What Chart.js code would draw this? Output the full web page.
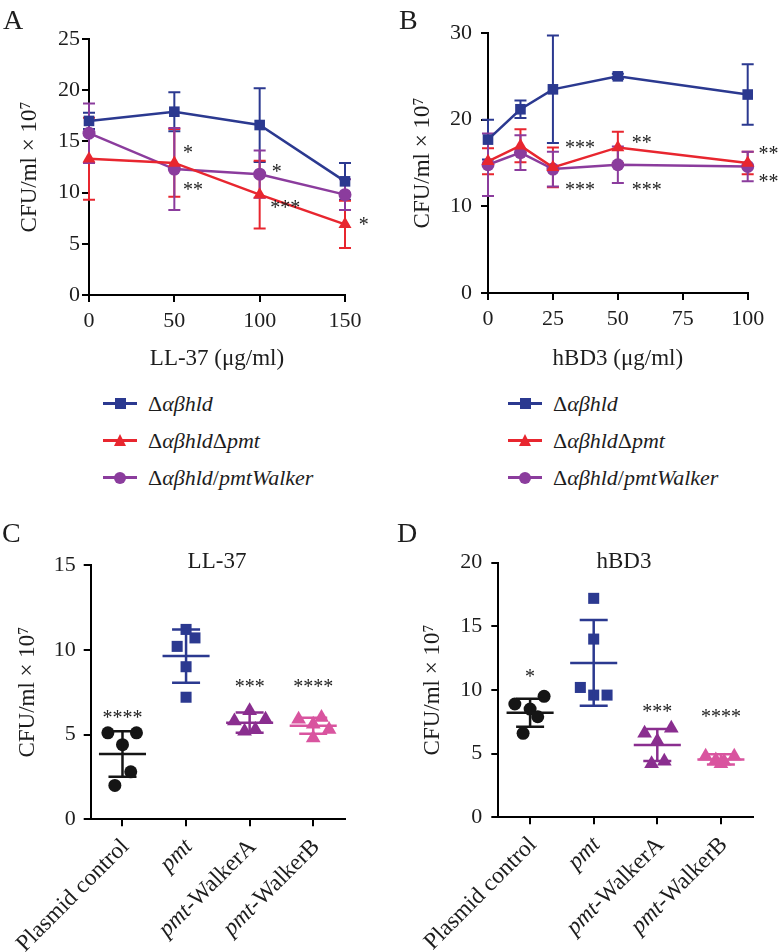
<!DOCTYPE html>
<html>
<head>
<meta charset="utf-8">
<script src="https://cdn.jsdelivr.net/npm/chart.js@4.4.0/dist/chart.umd.min.js"></script>
<style>
  body { margin: 0; background: #fff; font-family: "Liberation Serif", serif; color: #1d1d1d; }
  #page { position: relative; width: 778px; height: 952px; overflow: hidden; }
  canvas { position: absolute; }
  .letter { position: absolute; font-size: 28px; line-height: 28px; }
  .ptitle { position: absolute; font-size: 23px; line-height: 23px; transform: translate(-50%, -50%); white-space: nowrap; }
  .legend { position: absolute; font-family: "Liberation Serif", serif; font-size: 22px; }
  .legend i { font-family: "Liberation Serif", serif; font-style: italic; }
  .legend .row { height: 37px; display: flex; align-items: center; white-space: nowrap; }
  .icon { position: relative; width: 34px; height: 14px; margin-right: 11px; }
  .icon .ln { position: absolute; left: 0; right: 0; top: 5.5px; height: 3px; }
  .icon .sq { position: absolute; left: 11.5px; top: 1.5px; width: 11px; height: 11px; }
  .icon .ci { position: absolute; left: 11px; top: 1px; width: 12px; height: 12px; border-radius: 50%; }
  .icon .tr { position: absolute; left: 10.5px; top: 0px; width: 0; height: 0;
              border-left: 6.5px solid transparent; border-right: 6.5px solid transparent; border-bottom: 12px solid; }
</style>
</head>
<body>
<div id="page">
  <canvas id="chartA" width="380" height="370" style="left:0;top:0"></canvas>
  <canvas id="chartB" width="398" height="370" style="left:380px;top:0"></canvas>
  <canvas id="chartC" width="390" height="412" style="left:0;top:540px"></canvas>
  <canvas id="chartD" width="388" height="412" style="left:390px;top:540px"></canvas>

  <div class="letter" style="left:3px;top:6px">A</div>
  <div class="letter" style="left:399px;top:6px">B</div>
  <div class="letter" style="left:2px;top:519px">C</div>
  <div class="letter" style="left:397px;top:519px">D</div>

  <div class="ptitle" style="left:217px;top:560px">LL-37</div>
  <div class="ptitle" style="left:624px;top:560px">hBD3</div>

  <div class="legend" id="legendA" style="left:103px;top:385px"></div>
  <div class="legend" id="legendB" style="left:508px;top:385px"></div>
</div>

<script>
// panels A and B: means and SDs per dose
const doseLL37 = [0, 50, 100, 150];
const doseHBD3 = [0, 12.5, 25, 50, 100];

const ll37Hld = [17.0, 17.9, 16.6, 11.1];
const ll37HldSd = [0.8, 1.9, 3.6, 1.8];
const ll37Pmt = [13.3, 12.9, 9.8, 6.9];
const ll37PmtSd = [4.0, 3.3, 3.3, 2.3];
const ll37Walker = [15.8, 12.3, 11.8, 9.8];
const ll37WalkerSd = [2.9, 4.0, 2.3, 1.5];

const hbd3Hld = [17.7, 21.2, 23.5, 25.0, 22.9];
const hbd3HldSd = [2.3, 1.0, 6.2, 0.3, 3.5];
const hbd3Pmt = [15.2, 17.0, 14.5, 16.8, 15.0];
const hbd3PmtSd = [1.5, 1.9, 2.3, 1.8, 1.3];
const hbd3Walker = [14.8, 16.2, 14.3, 14.8, 14.6];
const hbd3WalkerSd = [3.6, 2.0, 2.0, 2.1, 1.7];

// panels C and D: single replicates per strain
const strains = ["Plasmid control", "pmt", "pmt-WalkerA", "pmt-WalkerB"];

const ll37Points = [
  [5.1, 5.1, 4.4, 2.8, 2.0],
  [11.2, 10.7, 10.2, 9.0, 7.2],
  [6.4, 5.8, 5.9, 5.2, 5.3],
  [5.9, 6.0, 5.6, 5.3, 4.8],
];
const ll37Jitter = [
  [-0.23, 0.22, 0, 0.13, -0.12],
  [0, 0.14, -0.14, 0, 0],
  [0, -0.24, 0.25, -0.08, 0.09],
  [-0.23, 0.13, 0, 0.25, 0],
];
const ll37Mean = [3.85, 9.63, 5.7, 5.52];
const ll37Sd = [1.34, 1.57, 0.6, 0.47];

const hbd3Points = [
  [8.9, 9.5, 8.5, 7.9, 6.6],
  [17.2, 14.0, 10.2, 9.6, 9.6],
  [6.6, 7.0, 6.0, 4.2, 4.4],
  [4.8, 4.8, 4.5, 4.4, 4.2],
];
const hbd3Jitter = [
  [-0.24, 0.22, 0, 0.12, -0.11],
  [0, 0, -0.21, 0, 0.21],
  [-0.2, 0.22, 0, -0.09, 0.11],
  [-0.24, 0.21, -0.08, 0.05, 0],
];
const hbd3Mean = [8.22, 12.13, 5.68, 4.55];
const hbd3Sd = [1.1, 3.37, 1.25, 0.4];

// significance marks, in data units of each panel
const starsA = [
  { x: 58, y: 14.4, text: "*" },
  { x: 61, y: 10.7, text: "**" },
  { x: 110, y: 12.5, text: "*" },
  { x: 115, y: 9.0, text: "***" },
  { x: 161, y: 7.3, text: "*" },
];
const starsB = [
  { x: 35.4, y: 17.3, text: "***" },
  { x: 59.2, y: 17.85, text: "**" },
  { x: 108, y: 16.6, text: "**" },
  { x: 35.4, y: 12.5, text: "***" },
  { x: 61.1, y: 12.5, text: "***" },
  { x: 108, y: 13.4, text: "**" },
];
const starsC = [
  { x: 0, y: 6.25, text: "****" },
  { x: 2, y: 8.1, text: "***" },
  { x: 3, y: 8.1, text: "****" },
];
const starsD = [
  { x: 0, y: 11.4, text: "*" },
  { x: 2, y: 8.7, text: "***" },
  { x: 3, y: 8.3, text: "****" },
];

const blue = "#2b3990";
const red = "#e8262f";
const purple = "#8b3c9d";
const black = "#151515";
const walkerA = "#8a2e8f";
const walkerB = "#d9549f";
const ink = "#1d1d1d";
const serif = "'Liberation Serif', serif";
const yTitle = "CFU/ml \u00d7 10\u2077";

renderLegend("legendA");
renderLegend("legendB");

function renderLegend(id) {
  const rows = [
    { color: blue, mark: "sq", html: "\u0394<i>\u03b1\u03b2hld</i>" },
    { color: red, mark: "tr", html: "\u0394<i>\u03b1\u03b2hld</i>\u0394<i>pmt</i>" },
    { color: purple, mark: "ci", html: "\u0394<i>\u03b1\u03b2hld</i>/<i>pmtWalker</i>" },
  ];
  let html = "";
  for (const row of rows) {
    const markStyle = row.mark === "tr" ? `border-bottom-color:${row.color}` : `background:${row.color}`;
    html += `<div class="row"><div class="icon"><div class="ln" style="background:${row.color}"></div>` +
      `<div class="${row.mark}" style="${markStyle}"></div></div><span>${row.html}</span></div>`;
  }
  document.getElementById(id).innerHTML = html;
}

const errorBars = {
  id: "errorBars",
  beforeDatasetsDraw(chart) {
    const { ctx, scales } = chart;
    chart.data.datasets.forEach((ds) => {
      if (!ds.sd) return;
      ctx.save();
      ctx.strokeStyle = ds.borderColor;
      ctx.lineWidth = 2;
      ds.data.forEach((p, i) => {
        const px = scales.x.getPixelForValue(p.x);
        const top = scales.y.getPixelForValue(p.y + ds.sd[i]);
        const bot = scales.y.getPixelForValue(p.y - ds.sd[i]);
        ctx.beginPath();
        ctx.moveTo(px, top);
        ctx.lineTo(px, bot);
        ctx.moveTo(px - 6, top);
        ctx.lineTo(px + 6, top);
        ctx.moveTo(px - 6, bot);
        ctx.lineTo(px + 6, bot);
        ctx.stroke();
      });
      ctx.restore();
    });
  },
};

function starPlugin(marks) {
  return {
    id: "stars",
    afterDraw(chart) {
      const { ctx, scales } = chart;
      ctx.save();
      ctx.fillStyle = ink;
      ctx.font = `20px ${serif}`;
      ctx.textAlign = "center";
      ctx.textBaseline = "alphabetic";
      for (const m of marks) {
        ctx.fillText(m.text, scales.x.getPixelForValue(m.x), scales.y.getPixelForValue(m.y) + 11);
      }
      ctx.restore();
    },
  };
}

function summaryPlugin(means, sds, colors) {
  return {
    id: "summary",
    afterDatasetsDraw(chart) {
      const { ctx, scales } = chart;
      ctx.save();
      ctx.lineWidth = 2.5;
      means.forEach((mean, i) => {
        const x0 = scales.x.getPixelForValue(i - 0.37);
        const x1 = scales.x.getPixelForValue(i + 0.37);
        const xc = scales.x.getPixelForValue(i);
        const ym = scales.y.getPixelForValue(mean);
        const yt = scales.y.getPixelForValue(mean + sds[i]);
        const yb = scales.y.getPixelForValue(mean - sds[i]);
        ctx.strokeStyle = colors[i];
        ctx.beginPath();
        ctx.moveTo(x0, ym);
        ctx.lineTo(x1, ym);
        ctx.moveTo(xc, yt);
        ctx.lineTo(xc, yb);
        ctx.moveTo(xc - 14, yt);
        ctx.lineTo(xc + 14, yt);
        ctx.moveTo(xc - 14, yb);
        ctx.lineTo(xc + 14, yb);
        ctx.stroke();
      });
      ctx.restore();
    },
  };
}

function strainLabels(labels) {
  return {
    id: "strainLabels",
    afterDraw(chart) {
      const { ctx, scales } = chart;
      ctx.save();
      ctx.fillStyle = ink;
      ctx.textBaseline = "middle";
      ctx.textAlign = "left";
      labels.forEach((label, i) => {
        const parts = label.startsWith("pmt") ? [["pmt", true], [label.slice(3), false]] : [[label, false]];
        const fonts = parts.map((p) => `${p[1] ? "italic " : ""}23.5px ${serif}`);
        let total = 0;
        const widths = parts.map((p, k) => {
          ctx.font = fonts[k];
          const w = ctx.measureText(p[0]).width;
          total += w;
          return w;
        });
        ctx.save();
        ctx.translate(scales.x.getPixelForValue(i) + 3, scales.y.bottom + 24);
        ctx.rotate(-Math.PI / 4);
        let cx = -total;
        parts.forEach((p, k) => {
          ctx.font = fonts[k];
          ctx.fillText(p[0], cx, 0);
          cx += widths[k];
        });
        ctx.restore();
      });
      ctx.restore();
    },
  };
}

function axisStyle(tickPad) {
  return {
    border: { display: true, color: "#000", width: 2 },
    grid: { display: true, drawOnChartArea: false, drawTicks: true, tickLength: 7, color: "#000", lineWidth: 2 },
    ticks: { color: ink, padding: tickPad, font: { family: serif, size: 22 } },
  };
}

function lineSeries(label, doses, values, sd, color, style, radius) {
  return {
    label,
    data: doses.map((d, i) => ({ x: d, y: values[i] })),
    sd,
    borderColor: color,
    backgroundColor: color,
    borderWidth: 2.5,
    pointStyle: style,
    pointRadius: radius,
    pointBorderWidth: 0,
    pointBackgroundColor: color,
    clip: false,
  };
}

function drawLinePanel(id, doses, series, box, stars) {
  const xAxis = axisStyle(6);
  xAxis.type = "linear";
  xAxis.min = 0;
  xAxis.max = box.xMax;
  xAxis.ticks.stepSize = box.xStep;
  xAxis.title = { display: true, text: box.xTitle, color: ink, padding: 0, font: { family: serif, size: 23, lineHeight: 1 } };
  xAxis.afterFit = (s) => { s.height = box.xHeight; };

  const yAxis = axisStyle(box.yPad);
  yAxis.min = 0;
  yAxis.max = box.yMax;
  yAxis.ticks.stepSize = box.yStep;
  yAxis.title = { display: true, text: yTitle, color: ink, padding: 0, font: { family: serif, size: 23, lineHeight: 1 } };
  yAxis.afterFit = (s) => { s.width = box.yWidth; };

  new Chart(document.getElementById(id), {
    type: "line",
    data: {
      datasets: [
        lineSeries("\u0394\u03b1\u03b2hld", doses, series[0][0], series[0][1], blue, "rect", 7.5),
        lineSeries("\u0394\u03b1\u03b2hld\u0394pmt", doses, series[1][0], series[1][1], red, "triangle", 7.5),
        lineSeries("\u0394\u03b1\u03b2hld/pmtWalker", doses, series[2][0], series[2][1], purple, "circle", 6.5),
      ],
    },
    options: {
      responsive: false,
      animation: false,
      layout: { padding: { left: box.padLeft, top: box.top, right: box.right, bottom: 0 } },
      plugins: { legend: { display: false }, tooltip: { enabled: false } },
      scales: { x: xAxis, y: yAxis },
    },
    plugins: [errorBars, starPlugin(stars)],
  });
}

function drawDotPanel(id, points, jitter, means, sds, box, stars) {
  const colors = [black, blue, walkerA, walkerB];
  const styles = ["circle", "rect", "triangle", "triangle"];
  const radii = [6.5, 7.8, 8.5, 8.5];

  const xAxis = axisStyle(6);
  xAxis.type = "linear";
  xAxis.min = -0.5;
  xAxis.max = strains.length - 0.5;
  xAxis.ticks.display = false;
  xAxis.afterBuildTicks = (s) => { s.ticks = strains.map((_, i) => ({ value: i })); };
  xAxis.afterFit = (s) => { s.height = box.xHeight; };

  const yAxis = axisStyle(box.yPad);
  yAxis.min = 0;
  yAxis.max = box.yMax;
  yAxis.ticks.stepSize = 5;
  yAxis.title = { display: true, text: yTitle, color: ink, padding: 0, font: { family: serif, size: 23, lineHeight: 1 } };
  yAxis.afterFit = (s) => { s.width = box.yWidth; };

  const datasets = points.map((vals, g) => ({
    label: strains[g],
    data: vals.map((v, i) => ({ x: g + jitter[g][i], y: v })),
    pointStyle: styles[g],
    pointRadius: radii[g],
    pointBorderWidth: 0,
    pointBackgroundColor: colors[g],
    backgroundColor: colors[g],
    clip: false,
  }));

  new Chart(document.getElementById(id), {
    type: "scatter",
    data: { datasets },
    options: {
      responsive: false,
      animation: false,
      layout: { padding: { left: box.padLeft, top: box.top, right: box.right, bottom: 0 } },
      plugins: { legend: { display: false }, tooltip: { enabled: false } },
      scales: { x: xAxis, y: yAxis },
    },
    plugins: [summaryPlugin(means, sds, colors), strainLabels(strains), starPlugin(stars)],
  });
}

drawLinePanel("chartA", doseLL37,
  [[ll37Hld, ll37HldSd], [ll37Pmt, ll37PmtSd], [ll37Walker, ll37WalkerSd]],
  { xMax: 150, xStep: 50, xTitle: "LL-37 (\u03bcg/ml)", xHeight: 75, yMax: 25, yStep: 5,
    yWidth: 70.5, yPad: 2, padLeft: 18.5, top: 39, right: 35 },
  starsA);

drawLinePanel("chartB", doseHBD3,
  [[hbd3Hld, hbd3HldSd], [hbd3Pmt, hbd3PmtSd], [hbd3Walker, hbd3WalkerSd]],
  { xMax: 100, xStep: 25, xTitle: "hBD3 (\u03bcg/ml)", xHeight: 77, yMax: 30, yStep: 10,
    yWidth: 76.5, yPad: 9, padLeft: 31.5, top: 33, right: 30.3 },
  starsB);

drawDotPanel("chartC", ll37Points, ll37Jitter, ll37Mean, ll37Sd,
  { xHeight: 132.7, yMax: 15, yWidth: 74.2, yPad: 8, padLeft: 16.5, top: 25, right: 45 },
  starsC);

drawDotPanel("chartD", hbd3Points, hbd3Jitter, hbd3Mean, hbd3Sd,
  { xHeight: 134.7, yMax: 20, yWidth: 76.8, yPad: 9, padLeft: 31.5, top: 22.7, right: 25.3 },
  starsD);
</script>
</body>
</html>
